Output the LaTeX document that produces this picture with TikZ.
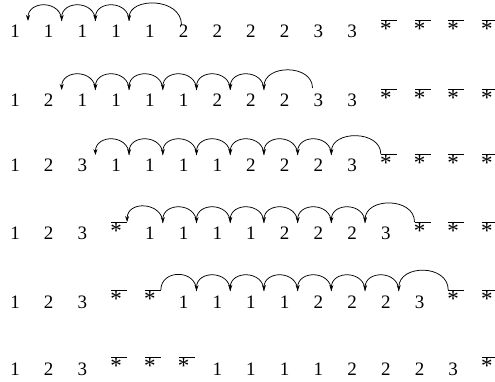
\documentclass[tikz,border=0pt]{standalone}
\usepackage{fontspec}
\setmainfont{Liberation Serif}
\usetikzlibrary{arrows.meta}
\newcommand\putrow[3]{%
  \foreach \v [count=\c] in {#3} {
    \pgfmathsetmacro\xx{15+33.71*(\c-1)}
    \coordinate (a-#1-\c) at (\xx+13,#2-17);
    \coordinate (l-#1-\c) at (\xx-5,#2-18);
    \coordinate (r-#1-\c) at (\xx+11,#2-18);
    \if s\v
      \node[st] (n-#1-\c) at (\xx,#2-1.5) {*};
      \draw[ovl] (l-#1-\c) -- (r-#1-\c);
    \else
      \node[dig] (n-#1-\c) at (\xx,#2) {\v};
    \fi
  }}
\newcommand\hopchain[3]{% row, from col, to col (arrows right of columns)
  \foreach \i in {#2,...,#3} {
    \pgfmathtruncatemacro\j{\i-1}
    \draw[arw] (a-#1-\i) .. controls +(0,-21) and +(0,-21) .. (a-#1-\j);
  }}
\begin{document}
\begin{tikzpicture}[x=1pt,y=-1pt,
  dig/.style={anchor=base,inner sep=0pt,font=\fontsize{19}{19}\selectfont},
  st/.style={anchor=base,inner sep=0pt,font=\fontsize{23}{23}\selectfont},
  ovl/.style={line width=0.7pt},
  arcline/.style={line width=0.75pt},
  arw/.style={arcline,-{Stealth[length=6pt,width=4pt]}}]
\useasboundingbox (0,0) rectangle (495,382);
\putrow{1}{38}{1,1,1,1,1,2,2,2,2,3,3,s,s,s,s}
\putrow{2}{107}{1,2,1,1,1,1,2,2,2,3,3,s,s,s,s}
\putrow{3}{172}{1,2,3,1,1,1,1,2,2,2,3,s,s,s,s}
\putrow{4}{240}{1,2,3,s,1,1,1,1,2,2,2,3,s,s,s}
\putrow{5}{308}{1,2,3,s,s,1,1,1,1,2,2,2,3,s,s}
\putrow{6}{375}{1,2,3,s,s,s,1,1,1,1,2,2,2,3,s}
% row 1
\coordinate (s-1) at (181.5,25);
\draw[arw] (s-1) .. controls +(0,-28) and +(0,-24) .. (a-1-4);
\hopchain{1}{4}{2}
% row 2
\coordinate (s-2) at (312.5,88);
\draw[arw] (s-2) .. controls +(0,-24) and +(0,-26) .. (a-2-8);
\hopchain{2}{8}{3}
% row 3
\draw[arw] (l-3-12) .. controls +(0,-24) and +(0,-25) .. (a-3-10);
\hopchain{3}{10}{4}
% row 4
\draw[arw] (l-4-13) .. controls +(0,-25) and +(0,-26) .. (a-4-11);
\hopchain{4}{11}{6}
\draw[arw] (a-4-5) .. controls +(0,-21) and +(0,-22) .. (r-4-4);
% row 5
\draw[arw] (l-5-14) .. controls +(0,-26) and +(0,-27) .. (a-5-12);
\hopchain{5}{12}{7}
\draw[arcline] (a-5-6) .. controls +(0,-22) and +(0,-21) .. (r-5-5);
\end{tikzpicture}
\end{document}
